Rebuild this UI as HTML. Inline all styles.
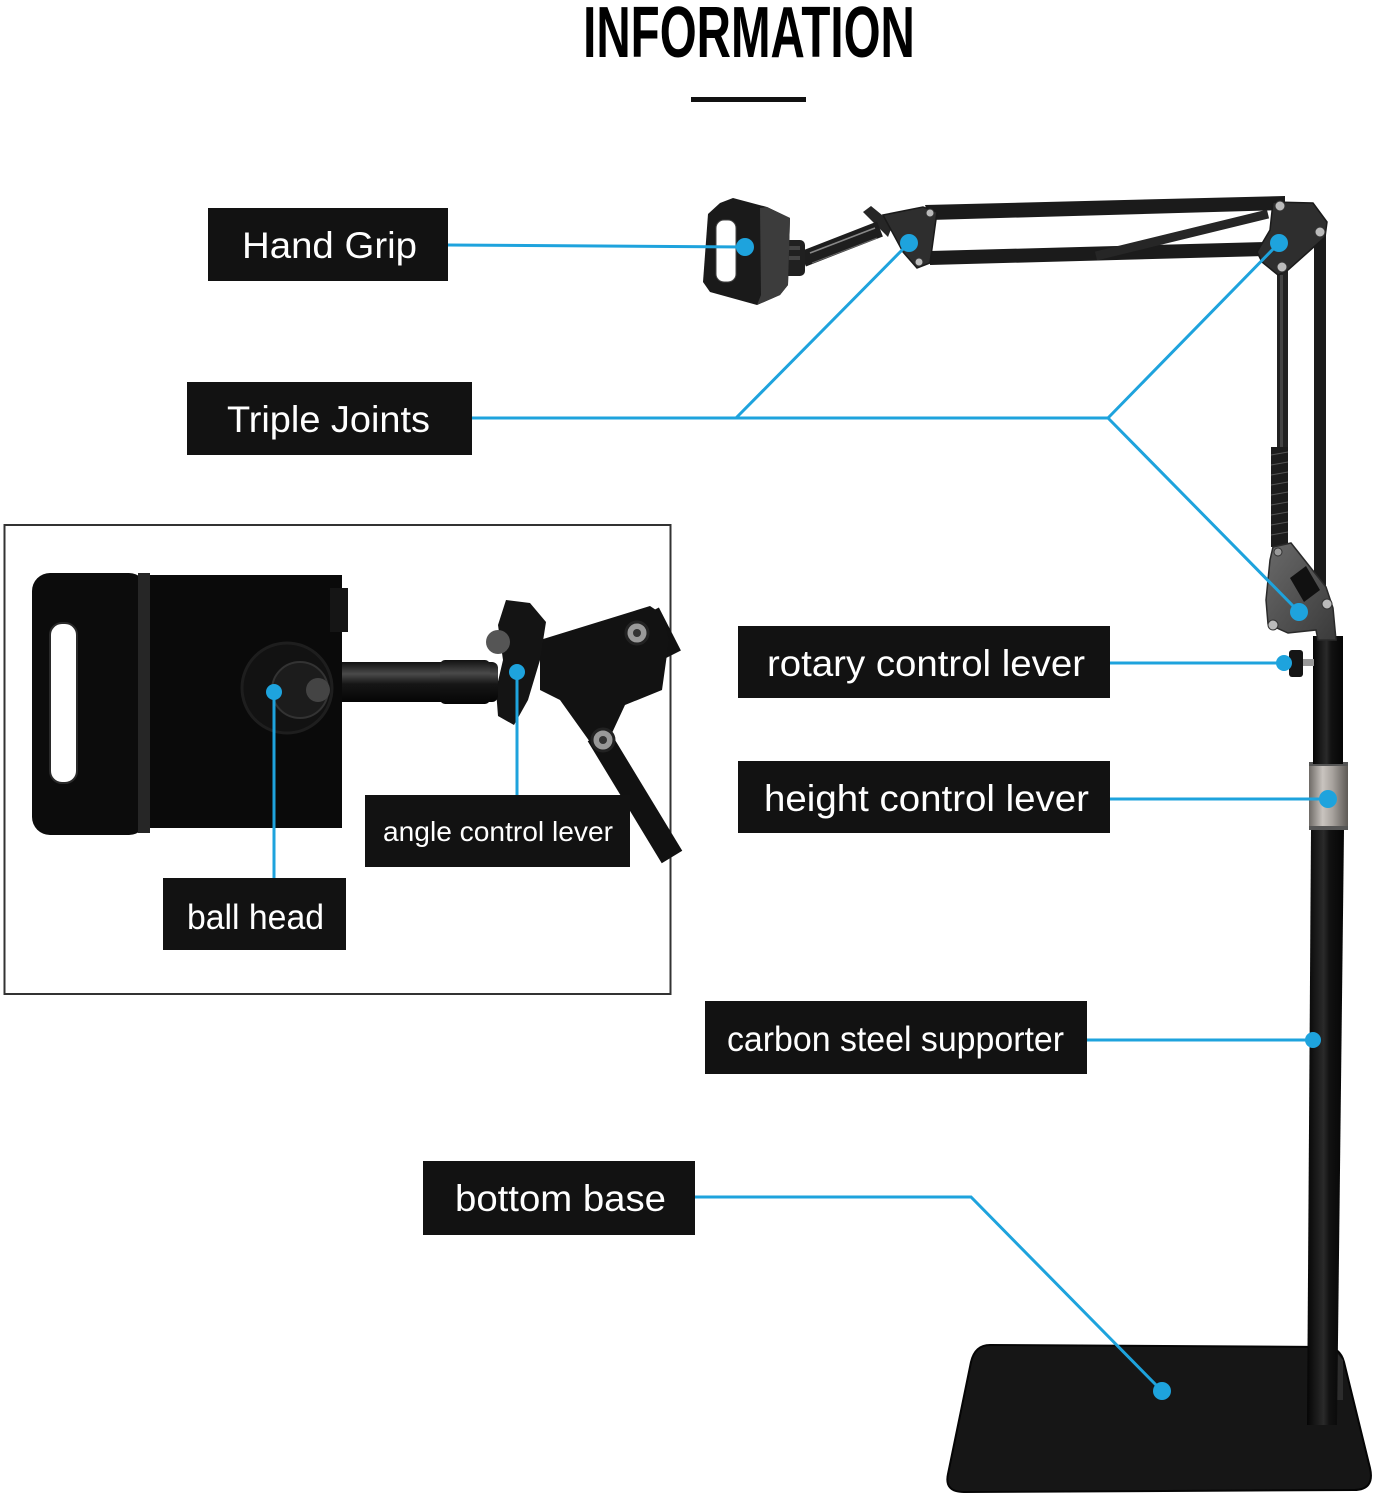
<!DOCTYPE html>
<html>
<head>
<meta charset="utf-8">
<style>
  html,body{margin:0;padding:0;background:#fff;}
  svg{display:block;}
  .lbl{font-family:"Liberation Sans",Arial,sans-serif;fill:#fff;}
</style>
</head>
<body>
<svg width="1375" height="1500" viewBox="0 0 1375 1500" xmlns="http://www.w3.org/2000/svg">
  <defs>
    <linearGradient id="silver" x1="0" x2="1" y1="0" y2="0">
      <stop offset="0" stop-color="#6e6a66"/>
      <stop offset="0.35" stop-color="#c9c4bf"/>
      <stop offset="0.6" stop-color="#a8a39e"/>
      <stop offset="1" stop-color="#5d5955"/>
    </linearGradient>
    <linearGradient id="pole" x1="0" x2="1" y1="0" y2="0">
      <stop offset="0" stop-color="#050505"/>
      <stop offset="0.45" stop-color="#2a2a2a"/>
      <stop offset="0.6" stop-color="#121212"/>
      <stop offset="1" stop-color="#050505"/>
    </linearGradient>
    <linearGradient id="rod" x1="0" x2="0" y1="0" y2="1">
      <stop offset="0" stop-color="#111"/>
      <stop offset="0.3" stop-color="#4a4a4a"/>
      <stop offset="0.55" stop-color="#161616"/>
      <stop offset="1" stop-color="#050505"/>
    </linearGradient>
    <linearGradient id="plate" x1="0" x2="1" y1="0" y2="1">
      <stop offset="0" stop-color="#6a6a6a"/>
      <stop offset="1" stop-color="#3a3a3a"/>
    </linearGradient>
  </defs>

  <!-- Title -->
  <text x="0" y="0" transform="translate(749,57) scale(0.66,1)" text-anchor="middle" font-family="Liberation Sans, Arial, sans-serif" font-weight="bold" font-size="72" fill="#000">INFORMATION</text>
  <rect x="691" y="97" width="115" height="5" fill="#111"/>

  <!-- ===== Main stand ===== -->
  <!-- base -->
  <path d="M 990,1345 L 1325,1347 Q 1340,1347 1344,1362 L 1370,1468 Q 1375,1490 1354,1490 L 964,1492 Q 944,1492 948,1474 L 971,1362 Q 975,1345 990,1345 Z" fill="#161616" stroke="#050505" stroke-width="2"/>
  <path d="M 1336,1352 L 1343,1360 L 1343,1400 L 1336,1400 Z" fill="#2c2c2c"/>

  <!-- lower pole -->
  <polygon points="1311,830 1344,830 1337,1425 1307,1425" fill="url(#pole)"/>
  <!-- collar -->
  <rect x="1309" y="762" width="39" height="68" rx="3" fill="url(#silver)"/>
  <rect x="1309" y="762" width="39" height="4" fill="#555"/>
  <rect x="1309" y="826" width="39" height="4" fill="#555"/>
  <!-- upper pole -->
  <rect x="1313" y="636" width="30" height="128" fill="url(#pole)"/>
  <!-- rotary knob -->
  <rect x="1301" y="659" width="13" height="7" fill="#999"/>
  <rect x="1289" y="650" width="14" height="27" rx="3" fill="#151515"/>

  <!-- vertical arm bars -->
  <rect x="1277" y="268" width="11" height="285" fill="#222"/>
  <rect x="1314" y="232" width="12" height="365" fill="#1a1a1a"/>
  <rect x="1280" y="275" width="3" height="270" fill="#444"/>
  <!-- spring -->
  <rect x="1271" y="447" width="17" height="100" fill="#1c1c1c"/>
  <g stroke="#555" stroke-width="1">
    <line x1="1271" y1="455" x2="1288" y2="452"/><line x1="1271" y1="465" x2="1288" y2="462"/>
    <line x1="1271" y1="475" x2="1288" y2="472"/><line x1="1271" y1="485" x2="1288" y2="482"/>
    <line x1="1271" y1="495" x2="1288" y2="492"/><line x1="1271" y1="505" x2="1288" y2="502"/>
    <line x1="1271" y1="515" x2="1288" y2="512"/><line x1="1271" y1="525" x2="1288" y2="522"/>
    <line x1="1271" y1="535" x2="1288" y2="532"/>
  </g>
  <!-- lower joint plate -->
  <polygon points="1273,547 1291,543 1326,587 1333,608 1336,640 1318,640 1316,630 1288,633 1268,624 1266,600 1270,560" fill="url(#plate)" stroke="#2a2a2a" stroke-width="1.5"/>
  <polygon points="1290,578 1306,566 1320,590 1304,602" fill="#111"/>
  <circle cx="1273" cy="625" r="5" fill="#bbb" stroke="#333"/>
  <circle cx="1327" cy="604" r="5" fill="#bbb" stroke="#333"/>
  <circle cx="1278" cy="552" r="4" fill="#999" stroke="#333"/>

  <!-- horizontal arm -->
  <polygon points="925,205 1285,196 1285,210 930,220" fill="#1b1b1b"/>
  <polygon points="930,251 1265,242 1265,256 930,265" fill="#1b1b1b"/>
  <line x1="1096" y1="256" x2="1268" y2="214" stroke="#262626" stroke-width="9"/>
  <!-- right joint plate -->
  <polygon points="1273,202 1313,203 1327,222 1325,237 1288,270 1278,275 1262,262 1257,252 1270,230" fill="#2e2e2e" stroke="#1a1a1a" stroke-width="1.5"/>
  <circle cx="1280" cy="206" r="5" fill="#bbb" stroke="#333"/>
  <circle cx="1320" cy="232" r="5" fill="#bbb" stroke="#333"/>
  <circle cx="1282" cy="267" r="5" fill="#bbb" stroke="#333"/>
  <!-- left joint plate + lever -->
  <polygon points="863,212 871,206 893,224 888,237" fill="#262626"/>
  <polygon points="883,215 923,207 937,212 930,263 917,268 903,252" fill="#2e2e2e" stroke="#1a1a1a" stroke-width="1.5"/>
  <circle cx="930" cy="213" r="4" fill="#bbb" stroke="#333"/>
  <circle cx="919" cy="262" r="4" fill="#bbb" stroke="#333"/>
  <!-- spring rod -->
  <line x1="803" y1="259" x2="880" y2="229" stroke="#1e1e1e" stroke-width="16"/>
  <line x1="810" y1="253" x2="875" y2="228" stroke="#888" stroke-width="1.5"/>
  <line x1="812" y1="263" x2="877" y2="238" stroke="#666" stroke-width="1"/>
  <!-- knob -->
  <rect x="767" y="240" width="38" height="36" rx="5" fill="#202020"/>
  <rect x="772" y="246" width="28" height="4" fill="#444"/>
  <rect x="772" y="256" width="28" height="4" fill="#444"/>
  <!-- phone holder (hand grip) -->
  <polygon points="708,214 720,203 733,198 767,207 790,218 788,285 780,295 757,305 710,292 703,282" fill="#1a1a1a"/>
  <polygon points="760,208 767,207 790,218 788,285 780,295 757,305 761,295" fill="#3c3c3c"/>
  <rect x="716" y="220" width="20" height="62" rx="8" fill="#fff" stroke="#444" stroke-width="1"/>

  <!-- ===== Inset ===== -->
  <rect x="4.5" y="525" width="666" height="469" fill="#fff" stroke="#333" stroke-width="2"/>
  <!-- arm in inset -->
  <line x1="598" y1="735" x2="672" y2="857" stroke="#111" stroke-width="24"/>
  <line x1="650" y1="612" x2="672" y2="655" stroke="#111" stroke-width="20"/>
  <polygon points="540,640 650,606 662,614 669,640 662,690 625,705 605,748 590,742 560,700 540,690" fill="#121212"/>
  <circle cx="637" cy="633" r="11" fill="#999" stroke="#222" stroke-width="3"/>
  <circle cx="637" cy="633" r="4" fill="#333"/>
  <circle cx="603" cy="740" r="11" fill="#999" stroke="#222" stroke-width="3"/>
  <circle cx="603" cy="740" r="4" fill="#333"/>
  <!-- lever -->
  <polygon points="506,600 530,603 546,622 540,660 528,700 514,725 498,716 496,690 503,660 498,625" fill="#141414"/>
  <circle cx="498" cy="642" r="12" fill="#555"/>
  <!-- rod -->
  <rect x="330" y="662" width="168" height="40" rx="6" fill="url(#rod)"/>
  <rect x="440" y="660" width="50" height="44" rx="5" fill="url(#rod)"/>
  <!-- phone holder big -->
  <rect x="32" y="573" width="115" height="262" rx="18" fill="#0c0c0c"/>
  <rect x="50" y="623" width="27" height="160" rx="12" fill="#fff" stroke="#2a2a2a" stroke-width="2"/>
  <rect x="138" y="573" width="12" height="260" fill="#262626"/>
  <rect x="150" y="575" width="192" height="253" fill="#0a0a0a"/>
  <rect x="330" y="588" width="18" height="44" fill="#151515"/>
  <!-- knob -->
  <circle cx="287" cy="688" r="45" fill="#121212" stroke="#1e1e1e" stroke-width="3"/>
  <circle cx="300" cy="690" r="28" fill="#1c1c1c" stroke="#333" stroke-width="2"/>
  <circle cx="318" cy="690" r="12" fill="#444"/>

  <!-- ===== Connectors ===== -->
  <g stroke="#1ea3dd" stroke-width="3" fill="none">
    <line x1="448" y1="245" x2="745" y2="247"/>
    <polyline points="472,418 1108,418"/>
    <line x1="736" y1="418" x2="909" y2="243"/>
    <line x1="1108" y1="418" x2="1279" y2="243"/>
    <line x1="1108" y1="418" x2="1299" y2="612"/>
    <line x1="1110" y1="663" x2="1284" y2="663"/>
    <line x1="1110" y1="799" x2="1328" y2="799"/>
    <line x1="1087" y1="1040" x2="1313" y2="1040"/>
    <polyline points="695,1197 971,1197 1162,1391"/>
    <line x1="274" y1="692" x2="274" y2="878"/>
    <line x1="517" y1="672" x2="517" y2="795"/>
  </g>
  <g fill="#1ea3dd">
    <circle cx="745" cy="247" r="9"/>
    <circle cx="909" cy="243" r="9"/>
    <circle cx="1279" cy="243" r="9"/>
    <circle cx="1299" cy="612" r="9"/>
    <circle cx="1284" cy="663" r="8"/>
    <circle cx="1328" cy="799" r="9"/>
    <circle cx="1313" cy="1040" r="8"/>
    <circle cx="1162" cy="1391" r="9"/>
    <circle cx="274" cy="692" r="8"/>
    <circle cx="517" cy="672" r="8"/>
  </g>

  <!-- ===== Labels ===== -->
  <rect x="208" y="208" width="240" height="73" fill="#121212"/>
  <text class="lbl" x="242" y="258" font-size="37" textLength="175" lengthAdjust="spacingAndGlyphs">Hand Grip</text>

  <rect x="187" y="382" width="285" height="73" fill="#121212"/>
  <text class="lbl" x="227" y="432" font-size="37" textLength="203" lengthAdjust="spacingAndGlyphs">Triple Joints</text>

  <rect x="738" y="626" width="372" height="72" fill="#121212"/>
  <text class="lbl" x="767" y="676" font-size="37" textLength="318" lengthAdjust="spacingAndGlyphs">rotary control lever</text>

  <rect x="738" y="761" width="372" height="72" fill="#121212"/>
  <text class="lbl" x="764" y="811" font-size="37" textLength="325" lengthAdjust="spacingAndGlyphs">height control lever</text>

  <rect x="705" y="1001" width="382" height="73" fill="#121212"/>
  <text class="lbl" x="727" y="1051" font-size="35" textLength="337" lengthAdjust="spacingAndGlyphs">carbon steel supporter</text>

  <rect x="423" y="1161" width="272" height="74" fill="#121212"/>
  <text class="lbl" x="455" y="1211" font-size="37" textLength="211" lengthAdjust="spacingAndGlyphs">bottom base</text>

  <rect x="365" y="795" width="265" height="72" fill="#121212"/>
  <text class="lbl" x="383" y="841" font-size="28" textLength="230" lengthAdjust="spacingAndGlyphs">angle control lever</text>

  <rect x="163" y="878" width="183" height="72" fill="#121212"/>
  <text class="lbl" x="187" y="929" font-size="35" textLength="137" lengthAdjust="spacingAndGlyphs">ball head</text>
</svg>
</body>
</html>
